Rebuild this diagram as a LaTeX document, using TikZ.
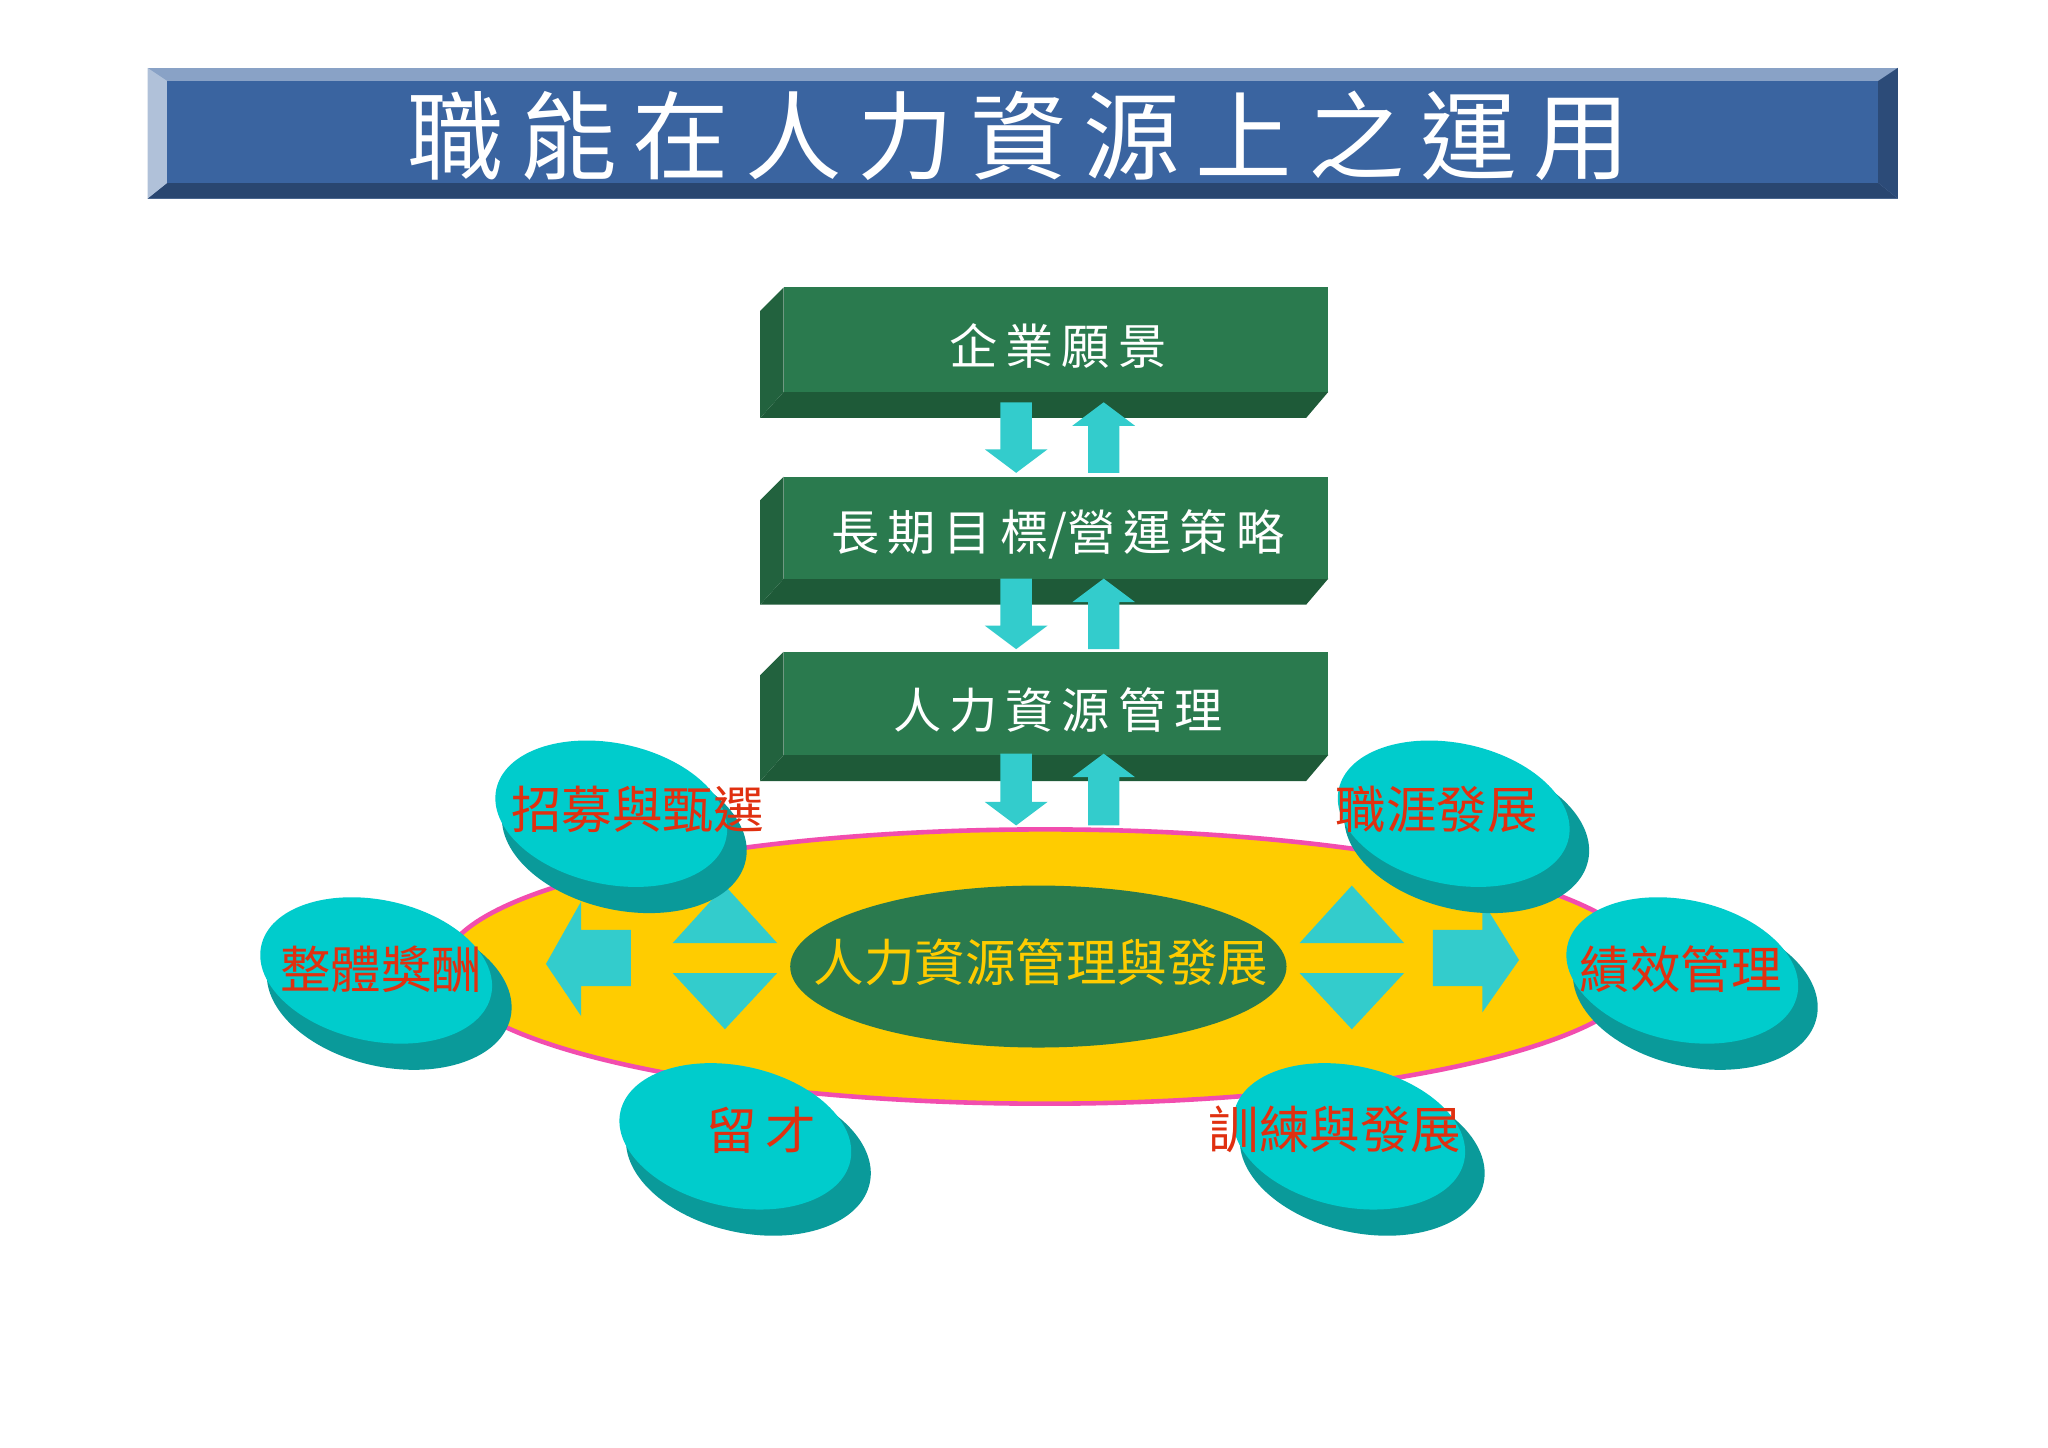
\documentclass[tikz,border=0pt]{standalone}
\usepackage{fontspec}
\newfontfamily\cjk{Noto Sans CJK TC}
\begin{document}
\begin{tikzpicture}[x=0.01cm,y=-0.01cm,
  gbox/.style={fill=boxg},
  disclab/.style={text=labred,font=\cjk\fontsize{11}{13}\selectfont},
  boxlab/.style={text=white,font=\cjk\fontsize{10.5}{13}\selectfont}]
\definecolor{titleblue}{HTML}{3A64A0}
\definecolor{boxg}{HTML}{2A7A4E}
\definecolor{boxgd}{HTML}{1E5A38}
\definecolor{cyanA}{HTML}{33CCCC}
\definecolor{discT}{HTML}{00CCCC}
\definecolor{discD}{HTML}{0A9A9A}
\definecolor{labred}{HTML}{E03010}
\definecolor{yel}{HTML}{FFCC00}
\useasboundingbox (0,0) rectangle (1568,1108);
\fill[white] (0,0) rectangle (1568,1108);
% title
\fill[titleblue!60!white] (113,52) rectangle (1453,152);
\fill[titleblue!70!black] (113,152) -- (128,140) -- (1438,140) -- (1453,152) -- cycle;
\fill[titleblue!40!white] (113,52) -- (128,62) -- (128,140) -- (113,152) -- cycle;
\fill[titleblue!75!black] (1453,52) -- (1438,62) -- (1438,140) -- (1453,152) -- cycle;
\fill[titleblue] (128,62) rectangle (1438,140);
\node[text=white,font=\cjk\fontsize{21}{25}\selectfont] (title) at (780,104) {職\,能\,在\,人\,力\,資\,源\,上\,之\,運\,用};
% green boxes
\foreach \t/\b/\nm/\lab in {220/320/b1/{企\,業\,願\,景},365/463/b2/{長\,期\,目\,標/營\,運\,策\,略},499/598/b3/{人\,力\,資\,源\,管\,理}}{
  \fill[boxgd] (582,\b) -- (600,\b-20) -- (1017,\b-20) -- (1000,\b) -- cycle;
  \fill[boxg!80!black] (582,\t+18) -- (600,\t) -- (600,\b-20) -- (582,\b) -- cycle;
  \fill[boxg] (600,\t) rectangle (1017,\b-20);
  \node[boxlab] (\nm) at (810,{(\t+\b)/2-5}) {\lab};
}
% yellow ellipse
\fill[yel,draw=magenta!70,line width=1pt] (800,740) ellipse [x radius=460,y radius=105];
% small arrows
\foreach \yt/\yb in {308/362,443/497,577/632}{
  \fill[cyanA] (766,\yt) -- (790,\yt) -- (790,\yb-18) -- (802,\yb-18) -- (778,\yb) -- (754,\yb-18) -- (766,\yb-18) -- cycle;
  \fill[cyanA] (833,\yb) -- (857,\yb) -- (857,\yt+18) -- (869,\yt+18) -- (845,\yt) -- (821,\yt+18) -- (833,\yt+18) -- cycle;
}
% center ellipse
\fill[boxg] (795,740) ellipse [x radius=190,y radius=62];
\node[text=yel,font=\cjk\fontsize{11}{13}\selectfont\itshape] (core) at (797,737) {人力資源管理與發展};
% triangles
\foreach \cx in {555,1035}{
  \fill[cyanA] (\cx-40,722) -- (\cx,678) -- (\cx+40,722) -- cycle;
  \fill[cyanA] (\cx-40,745) -- (\cx,788) -- (\cx+40,745) -- cycle;
}
% block arrows
\fill[cyanA] (483,712) -- (445,712) -- (445,690) -- (418,738) -- (445,778) -- (445,755) -- (483,755) -- cycle;
\fill[cyanA] (1097,712) -- (1135,712) -- (1135,690) -- (1163,735) -- (1135,775) -- (1135,755) -- (1097,755) -- cycle;
% discs
\foreach \cx/\cy/\nm/\lab/\lx/\ly in {470/625/d1/招募與甄選/488/620, 1115/625/d2/職涯發展/1100/620, 290/745/d3/整體獎酬/292/742, 1290/745/d4/績效管理/1287/742, 565/872/d5/留\,才/583/865, 1035/872/d6/訓練與發展/1022/865}{
  \fill[discD,rotate around={-12:(\cx+8,\cy+14)}] (\cx+8,\cy+14) ellipse [x radius=95,y radius=58];
  \fill[discT,rotate around={-12:(\cx-2,\cy-2)}] (\cx-2,\cy-2) ellipse [x radius=90,y radius=54];
  \node[disclab] (\nm) at (\lx,\ly) {\lab};
}
\end{tikzpicture}
\end{document}
